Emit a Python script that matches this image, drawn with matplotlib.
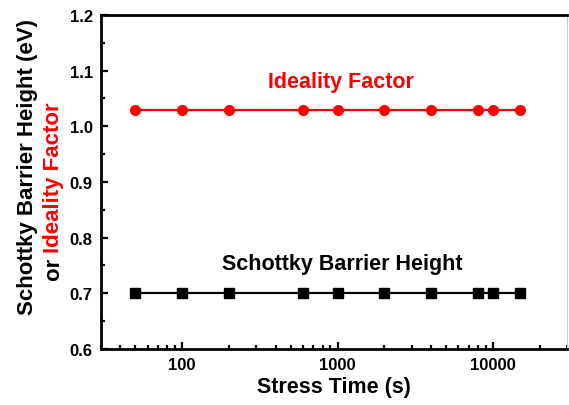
import matplotlib
matplotlib.use("Agg")
import matplotlib.pyplot as plt
from matplotlib.ticker import LogLocator, MultipleLocator, NullFormatter

plt.rcParams['font.family'] = ['Liberation Sans', 'DejaVu Sans']
plt.rcParams['font.weight'] = 'bold'

# stress times (s) and extracted diode parameters
stress_time = [50, 100, 200, 600, 1000, 2000, 4000, 8000, 10000, 15000]
ideality = [1.03, 1.03, 1.03, 1.03, 1.03, 1.03, 1.03, 1.03, 1.03, 1.03]
barrier = [0.70, 0.70, 0.70, 0.70, 0.70, 0.70, 0.70, 0.70, 0.70, 0.70]

fig = plt.figure(figsize=(5.69, 4.06), dpi=100)
ax = fig.add_axes([0.1775, 0.138, 0.819, 0.8226])

ax.plot(stress_time, ideality, color='#ff0000', lw=1.6, marker='o', ms=7)
ax.plot(stress_time, barrier, color='black', lw=1.6, marker='s', ms=6.5)

ax.text(1050, 1.081, 'Ideality Factor', color='#ff0000', fontsize=15.5,
        fontweight='bold', ha='center', va='center')
ax.text(1080, 0.753, 'Schottky Barrier Height', color='black', fontsize=15.5,
        fontweight='bold', ha='center', va='center')

ax.set_xscale('log')
ax.set_xlim(30, 30000)
ax.set_ylim(0.6, 1.2)
ax.xaxis.set_minor_locator(LogLocator(base=10, subs=range(2, 10), numticks=20))
ax.xaxis.set_minor_formatter(NullFormatter())
ax.set_xticks([100, 1000, 10000])
ax.set_xticklabels(['100', '1000', '10000'])
ax.yaxis.set_major_locator(MultipleLocator(0.1))
ax.yaxis.set_minor_locator(MultipleLocator(0.05))
ax.yaxis.set_major_formatter(matplotlib.ticker.FormatStrFormatter('%.1f'))

ax.tick_params(which='both', direction='in', top=False, right=False,
               labelsize=12, width=1.6)
ax.tick_params(which='major', length=5, pad=6)
ax.tick_params(which='minor', length=3)
for lab in ax.get_xticklabels() + ax.get_yticklabels():
    lab.set_fontweight('bold')

for side in ['left', 'bottom', 'top']:
    ax.spines[side].set_linewidth(2)
ax.spines['right'].set_linewidth(0.8)
ax.spines['right'].set_color('#cccccc')

ax.set_xlabel('Stress Time (s)', fontsize=15.5, fontweight='bold', labelpad=3)

# two-line y label, second line partly red
fig.text(28 / 569, 1 - 167 / 406, 'Schottky Barrier Height (eV)', rotation=90,
         fontsize=16, fontweight='bold', ha='center', va='center')
t1 = fig.text(54 / 569, 1 - 281 / 406, 'or ', rotation=90, fontsize=16,
              fontweight='bold', ha='center', va='bottom')
fig.canvas.draw()
bb = t1.get_window_extent(fig.canvas.get_renderer())
fig.text(54 / 569, bb.y1 / fig.bbox.height, 'Ideality Factor', rotation=90,
         fontsize=16, fontweight='bold', ha='center', va='bottom',
         color='#ff0000')

fig.savefig('out.png', dpi=100)
